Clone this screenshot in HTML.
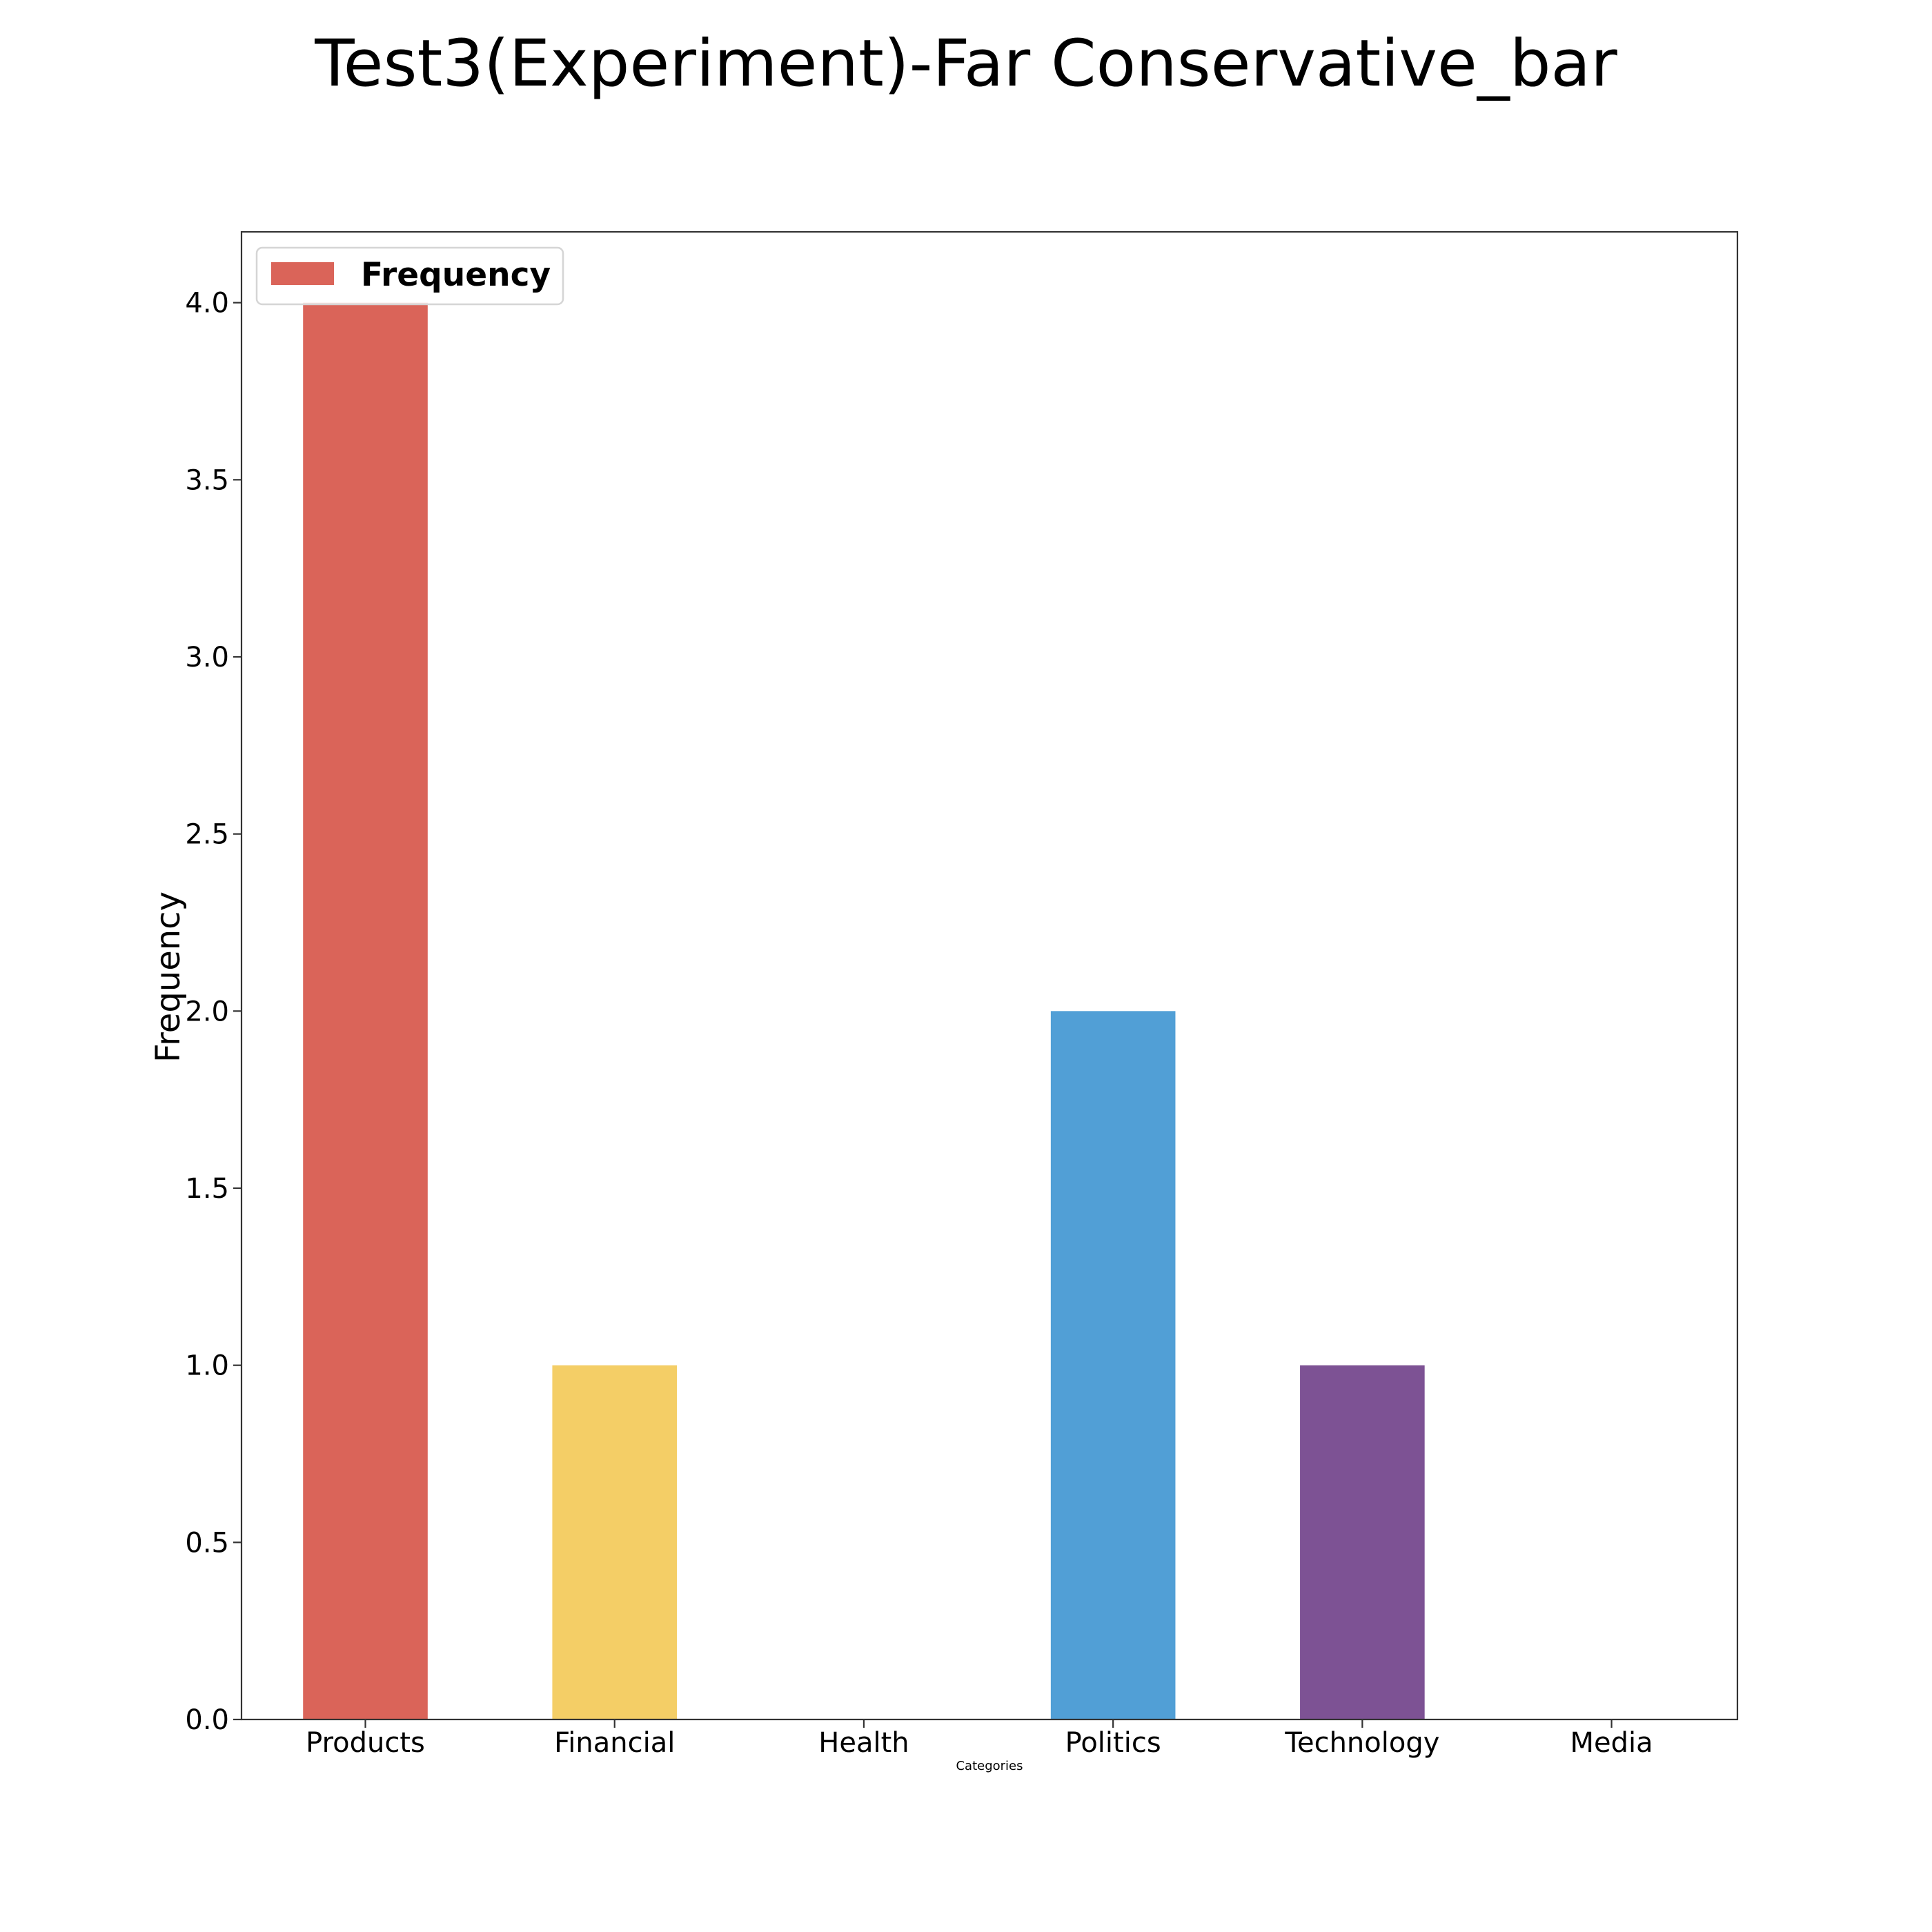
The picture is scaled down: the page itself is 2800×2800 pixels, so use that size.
<!DOCTYPE html>
<html><head><meta charset="utf-8"><style>
body{margin:0;background:#fff;}
svg{display:block;font-family:"DejaVu Sans","Liberation Sans",sans-serif;}
</style></head><body>
<svg id="chart" width="2800" height="2800" viewBox="0 0 2800 2800" xmlns="http://www.w3.org/2000/svg">
<rect width="2800" height="2800" fill="#fff"/>
<text x="1400" y="124" font-size="94" text-anchor="middle" fill="#000">Test3(Experiment)-Far Conservative_bar</text>
<g id="bars"></g>
<g id="axes"></g>
<text transform="translate(260,1416) rotate(-90)" font-size="48" text-anchor="middle" fill="#000">Frequency</text>
<text x="1434" y="2565" font-size="18" text-anchor="middle" fill="#000">Categories</text>
<g>
<rect x="372" y="359" width="444" height="82" rx="8" fill="#fff" fill-opacity="0.8" stroke="#d5d5d5" stroke-width="2.5"/>
<rect x="393" y="380" width="91" height="33" fill="#da6459"/>
<text x="523" y="414" font-size="47" font-weight="bold" fill="#000">Frequency</text>
</g>
</svg>
<script>
const categories=["Products","Financial","Health","Politics","Technology","Media"];
const values=[4,1,0,2,1,0];
const colors=["#da6459","#f4ce66","#aaaaaa","#519fd6","#7d5294","#888888"];
const yTicks=[0,0.5,1,1.5,2,2.5,3,3.5,4];
const yTickLabels=["0.0","0.5","1.0","1.5","2.0","2.5","3.0","3.5","4.0"];
const L=350,R=2518,T=336,B=2492,X0=-0.497,X1=5.505,Y0=0,Y1=4.2;
const xs=v=>L+(v-X0)/(X1-X0)*(R-L);
const ys=v=>B-(v-Y0)/(Y1-Y0)*(B-T);
const NS="http://www.w3.org/2000/svg";
const bars=document.getElementById('bars'),axes=document.getElementById('axes');
function mk(tag,attrs,parent){const e=document.createElementNS(NS,tag);for(const k in attrs)e.setAttribute(k,attrs[k]);parent.appendChild(e);return e;}
const bw=0.5;
values.forEach((v,i)=>{
 if(v<=0)return;
 const r=mk('rect',{x:xs(i-bw/2),y:ys(v),width:xs(i+bw/2)-xs(i-bw/2),height:ys(0)-ys(v),fill:colors[i]},bars);
 
 
});
const frame=mk('rect',{x:L,y:T,width:R-L,height:B-T,fill:'none',stroke:'#333',"stroke-width":2.2},axes);


yTicks.forEach((t,i)=>{
 const y=ys(t);
 mk('line',{x1:L-12,x2:L,y1:y,y2:y,stroke:'#333',"stroke-width":2.2},axes);
 const tx=mk('text',{x:L-18,y:y+14,"font-size":40,"text-anchor":"end",fill:"#000"},axes);
 tx.textContent=yTickLabels[i];
 
 
});
categories.forEach((c,i)=>{
 const x=xs(i);
 mk('line',{x1:x,x2:x,y1:B,y2:B+12,stroke:'#333',"stroke-width":2.2},axes);
 const tx=mk('text',{x:x,y:B+47,"font-size":40,"text-anchor":"middle",fill:"#000"},axes);
 tx.textContent=c;
 
 
});
</script>
</body></html>
